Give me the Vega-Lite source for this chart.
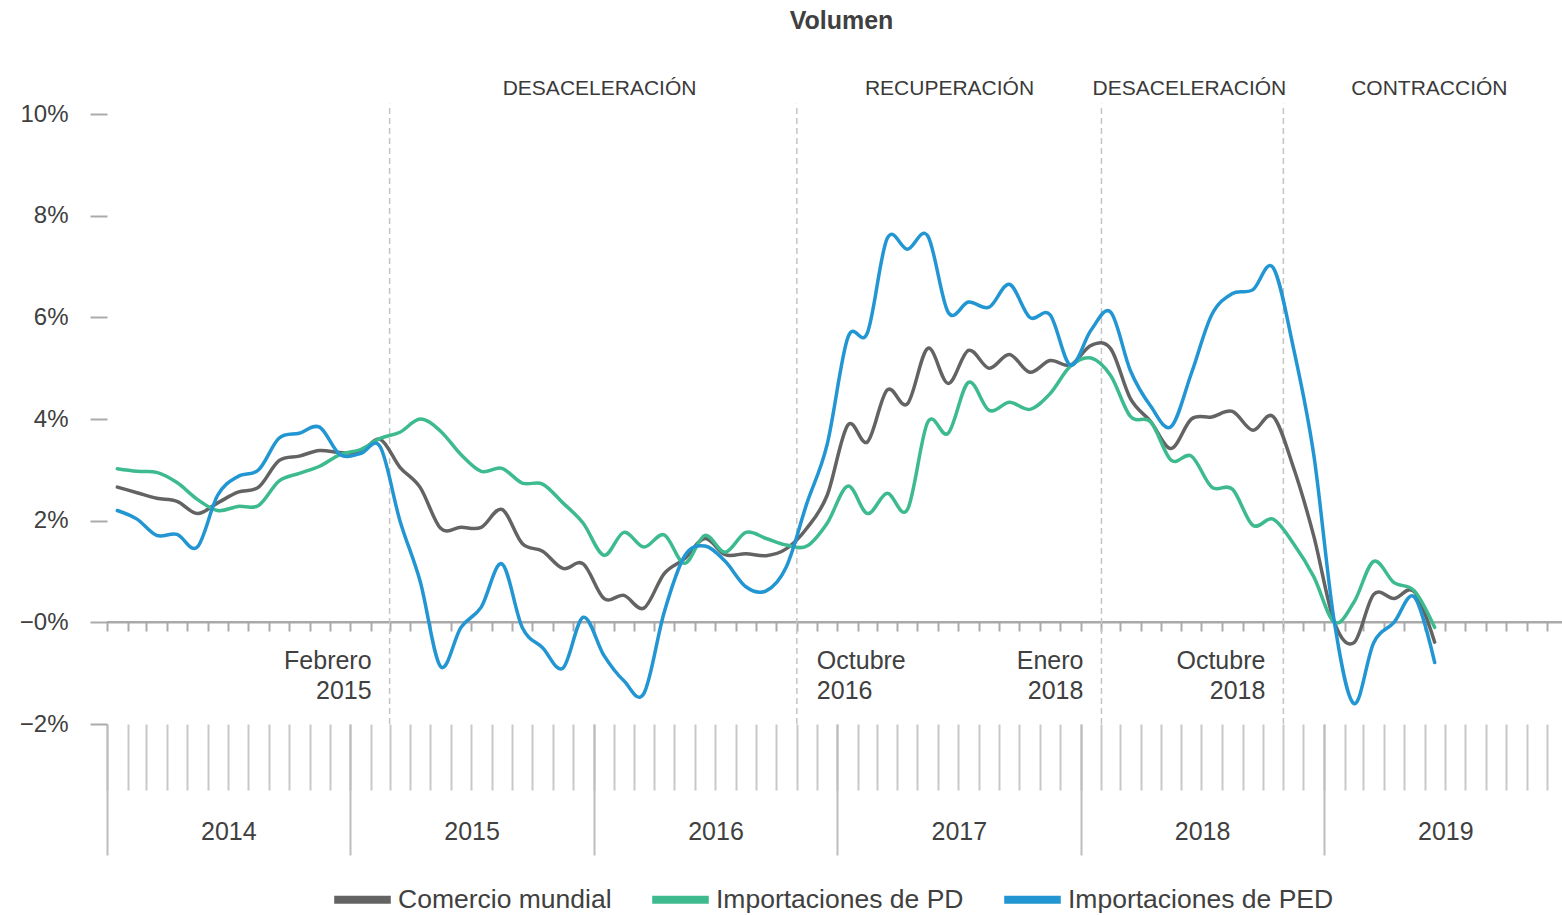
{
"$schema": "https://vega.github.io/schema/vega-lite/v6.json",
"width": 1455, "height": 610,
"autosize": {"type": "none"},
"padding": {"left": 107, "top": 114, "right": 0, "bottom": 191},
"background": "white",
"config": {"font": "Liberation Sans", "view": {"stroke": null}},
"title": {"text": "Volumen", "fontSize": 25, "fontWeight": "bold", "color": "#404040", "anchor": "middle", "frame": "group", "offset": 44, "dx": 7},
"datasets": {
"cortes": [
{"fecha": "2015-03-01", "etiqueta": "Febrero\n2015"},
{"fecha": "2016-11-01", "etiqueta": "Octubre\n2016"},
{"fecha": "2018-02-01", "etiqueta": "Enero\n2018"},
{"fecha": "2018-11-01", "etiqueta": "Octubre\n2018"}
],
"fases": [
{"fase": "DESACELERACIÓN", "fecha": "2016-01-10"},
{"fase": "RECUPERACIÓN", "fecha": "2017-06-18"},
{"fase": "DESACELERACIÓN", "fecha": "2018-06-13"},
{"fase": "CONTRACCIÓN", "fecha": "2019-06-08"}
],
"volumen": [
{"mes":"2014-01","serie":"Comercio mundial","valor":2.66},{"mes":"2014-02","serie":"Comercio mundial","valor":2.55},{"mes":"2014-03","serie":"Comercio mundial","valor":2.44},{"mes":"2014-04","serie":"Comercio mundial","valor":2.38},{"mes":"2014-05","serie":"Comercio mundial","valor":2.14},{"mes":"2014-06","serie":"Comercio mundial","valor":2.35},{"mes":"2014-07","serie":"Comercio mundial","valor":2.56},{"mes":"2014-08","serie":"Comercio mundial","valor":2.66},{"mes":"2014-09","serie":"Comercio mundial","valor":3.18},{"mes":"2014-10","serie":"Comercio mundial","valor":3.27},{"mes":"2014-11","serie":"Comercio mundial","valor":3.38},{"mes":"2014-12","serie":"Comercio mundial","valor":3.34},
{"mes":"2015-01","serie":"Comercio mundial","valor":3.35},{"mes":"2015-02","serie":"Comercio mundial","valor":3.6},{"mes":"2015-03","serie":"Comercio mundial","valor":3.05},{"mes":"2015-04","serie":"Comercio mundial","valor":2.65},{"mes":"2015-05","serie":"Comercio mundial","valor":1.85},{"mes":"2015-06","serie":"Comercio mundial","valor":1.87},{"mes":"2015-07","serie":"Comercio mundial","valor":1.87},{"mes":"2015-08","serie":"Comercio mundial","valor":2.22},{"mes":"2015-09","serie":"Comercio mundial","valor":1.55},{"mes":"2015-10","serie":"Comercio mundial","valor":1.4},{"mes":"2015-11","serie":"Comercio mundial","valor":1.06},{"mes":"2015-12","serie":"Comercio mundial","valor":1.15},
{"mes":"2016-01","serie":"Comercio mundial","valor":0.47},{"mes":"2016-02","serie":"Comercio mundial","valor":0.53},{"mes":"2016-03","serie":"Comercio mundial","valor":0.28},{"mes":"2016-04","serie":"Comercio mundial","valor":0.96},{"mes":"2016-05","serie":"Comercio mundial","valor":1.25},{"mes":"2016-06","serie":"Comercio mundial","valor":1.65},{"mes":"2016-07","serie":"Comercio mundial","valor":1.33},{"mes":"2016-08","serie":"Comercio mundial","valor":1.35},{"mes":"2016-09","serie":"Comercio mundial","valor":1.31},{"mes":"2016-10","serie":"Comercio mundial","valor":1.45},{"mes":"2016-11","serie":"Comercio mundial","valor":1.85},{"mes":"2016-12","serie":"Comercio mundial","valor":2.5},
{"mes":"2017-01","serie":"Comercio mundial","valor":3.88},{"mes":"2017-02","serie":"Comercio mundial","valor":3.55},{"mes":"2017-03","serie":"Comercio mundial","valor":4.57},{"mes":"2017-04","serie":"Comercio mundial","valor":4.3},{"mes":"2017-05","serie":"Comercio mundial","valor":5.39},{"mes":"2017-06","serie":"Comercio mundial","valor":4.7},{"mes":"2017-07","serie":"Comercio mundial","valor":5.35},{"mes":"2017-08","serie":"Comercio mundial","valor":5.0},{"mes":"2017-09","serie":"Comercio mundial","valor":5.27},{"mes":"2017-10","serie":"Comercio mundial","valor":4.92},{"mes":"2017-11","serie":"Comercio mundial","valor":5.15},{"mes":"2017-12","serie":"Comercio mundial","valor":5.06},
{"mes":"2018-01","serie":"Comercio mundial","valor":5.45},{"mes":"2018-02","serie":"Comercio mundial","valor":5.38},{"mes":"2018-03","serie":"Comercio mundial","valor":4.4},{"mes":"2018-04","serie":"Comercio mundial","valor":3.95},{"mes":"2018-05","serie":"Comercio mundial","valor":3.42},{"mes":"2018-06","serie":"Comercio mundial","valor":4.0},{"mes":"2018-07","serie":"Comercio mundial","valor":4.04},{"mes":"2018-08","serie":"Comercio mundial","valor":4.15},{"mes":"2018-09","serie":"Comercio mundial","valor":3.78},{"mes":"2018-10","serie":"Comercio mundial","valor":4.05},{"mes":"2018-11","serie":"Comercio mundial","valor":3.05},{"mes":"2018-12","serie":"Comercio mundial","valor":1.7},
{"mes":"2019-01","serie":"Comercio mundial","valor":0.0},{"mes":"2019-02","serie":"Comercio mundial","valor":-0.4},{"mes":"2019-03","serie":"Comercio mundial","valor":0.55},{"mes":"2019-04","serie":"Comercio mundial","valor":0.47},{"mes":"2019-05","serie":"Comercio mundial","valor":0.6},{"mes":"2019-06","serie":"Comercio mundial","valor":-0.39},
{"mes":"2014-01","serie":"Importaciones de PD","valor":3.02},{"mes":"2014-02","serie":"Importaciones de PD","valor":2.97},{"mes":"2014-03","serie":"Importaciones de PD","valor":2.95},{"mes":"2014-04","serie":"Importaciones de PD","valor":2.75},{"mes":"2014-05","serie":"Importaciones de PD","valor":2.42},{"mes":"2014-06","serie":"Importaciones de PD","valor":2.2},{"mes":"2014-07","serie":"Importaciones de PD","valor":2.28},{"mes":"2014-08","serie":"Importaciones de PD","valor":2.3},{"mes":"2014-09","serie":"Importaciones de PD","valor":2.78},{"mes":"2014-10","serie":"Importaciones de PD","valor":2.93},{"mes":"2014-11","serie":"Importaciones de PD","valor":3.07},{"mes":"2014-12","serie":"Importaciones de PD","valor":3.3},
{"mes":"2015-01","serie":"Importaciones de PD","valor":3.4},{"mes":"2015-02","serie":"Importaciones de PD","valor":3.62},{"mes":"2015-03","serie":"Importaciones de PD","valor":3.74},{"mes":"2015-04","serie":"Importaciones de PD","valor":4.0},{"mes":"2015-05","serie":"Importaciones de PD","valor":3.76},{"mes":"2015-06","serie":"Importaciones de PD","valor":3.3},{"mes":"2015-07","serie":"Importaciones de PD","valor":2.97},{"mes":"2015-08","serie":"Importaciones de PD","valor":3.03},{"mes":"2015-09","serie":"Importaciones de PD","valor":2.74},{"mes":"2015-10","serie":"Importaciones de PD","valor":2.72},{"mes":"2015-11","serie":"Importaciones de PD","valor":2.35},{"mes":"2015-12","serie":"Importaciones de PD","valor":1.95},
{"mes":"2016-01","serie":"Importaciones de PD","valor":1.32},{"mes":"2016-02","serie":"Importaciones de PD","valor":1.77},{"mes":"2016-03","serie":"Importaciones de PD","valor":1.48},{"mes":"2016-04","serie":"Importaciones de PD","valor":1.72},{"mes":"2016-05","serie":"Importaciones de PD","valor":1.16},{"mes":"2016-06","serie":"Importaciones de PD","valor":1.71},{"mes":"2016-07","serie":"Importaciones de PD","valor":1.38},{"mes":"2016-08","serie":"Importaciones de PD","valor":1.77},{"mes":"2016-09","serie":"Importaciones de PD","valor":1.65},{"mes":"2016-10","serie":"Importaciones de PD","valor":1.52},{"mes":"2016-11","serie":"Importaciones de PD","valor":1.5},{"mes":"2016-12","serie":"Importaciones de PD","valor":1.95},
{"mes":"2017-01","serie":"Importaciones de PD","valor":2.68},{"mes":"2017-02","serie":"Importaciones de PD","valor":2.14},{"mes":"2017-03","serie":"Importaciones de PD","valor":2.54},{"mes":"2017-04","serie":"Importaciones de PD","valor":2.22},{"mes":"2017-05","serie":"Importaciones de PD","valor":3.94},{"mes":"2017-06","serie":"Importaciones de PD","valor":3.72},{"mes":"2017-07","serie":"Importaciones de PD","valor":4.72},{"mes":"2017-08","serie":"Importaciones de PD","valor":4.17},{"mes":"2017-09","serie":"Importaciones de PD","valor":4.33},{"mes":"2017-10","serie":"Importaciones de PD","valor":4.19},{"mes":"2017-11","serie":"Importaciones de PD","valor":4.5},{"mes":"2017-12","serie":"Importaciones de PD","valor":5.04},
{"mes":"2018-01","serie":"Importaciones de PD","valor":5.2},{"mes":"2018-02","serie":"Importaciones de PD","valor":4.85},{"mes":"2018-03","serie":"Importaciones de PD","valor":4.05},{"mes":"2018-04","serie":"Importaciones de PD","valor":3.94},{"mes":"2018-05","serie":"Importaciones de PD","valor":3.19},{"mes":"2018-06","serie":"Importaciones de PD","valor":3.27},{"mes":"2018-07","serie":"Importaciones de PD","valor":2.66},{"mes":"2018-08","serie":"Importaciones de PD","valor":2.62},{"mes":"2018-09","serie":"Importaciones de PD","valor":1.91},{"mes":"2018-10","serie":"Importaciones de PD","valor":2.03},{"mes":"2018-11","serie":"Importaciones de PD","valor":1.55},{"mes":"2018-12","serie":"Importaciones de PD","valor":0.9},
{"mes":"2019-01","serie":"Importaciones de PD","valor":0.0},{"mes":"2019-02","serie":"Importaciones de PD","valor":0.4},{"mes":"2019-03","serie":"Importaciones de PD","valor":1.2},{"mes":"2019-04","serie":"Importaciones de PD","valor":0.78},{"mes":"2019-05","serie":"Importaciones de PD","valor":0.62},{"mes":"2019-06","serie":"Importaciones de PD","valor":-0.1},
{"mes":"2014-01","serie":"Importaciones de PED","valor":2.2},{"mes":"2014-02","serie":"Importaciones de PED","valor":2.03},{"mes":"2014-03","serie":"Importaciones de PED","valor":1.71},{"mes":"2014-04","serie":"Importaciones de PED","valor":1.73},{"mes":"2014-05","serie":"Importaciones de PED","valor":1.48},{"mes":"2014-06","serie":"Importaciones de PED","valor":2.5},{"mes":"2014-07","serie":"Importaciones de PED","valor":2.87},{"mes":"2014-08","serie":"Importaciones de PED","valor":3.0},{"mes":"2014-09","serie":"Importaciones de PED","valor":3.62},{"mes":"2014-10","serie":"Importaciones de PED","valor":3.72},{"mes":"2014-11","serie":"Importaciones de PED","valor":3.84},{"mes":"2014-12","serie":"Importaciones de PED","valor":3.3},
{"mes":"2015-01","serie":"Importaciones de PED","valor":3.32},{"mes":"2015-02","serie":"Importaciones de PED","valor":3.45},{"mes":"2015-03","serie":"Importaciones de PED","valor":2.0},{"mes":"2015-04","serie":"Importaciones de PED","valor":0.8},{"mes":"2015-05","serie":"Importaciones de PED","valor":-0.87},{"mes":"2015-06","serie":"Importaciones de PED","valor":-0.1},{"mes":"2015-07","serie":"Importaciones de PED","valor":0.3},{"mes":"2015-08","serie":"Importaciones de PED","valor":1.15},{"mes":"2015-09","serie":"Importaciones de PED","valor":-0.1},{"mes":"2015-10","serie":"Importaciones de PED","valor":-0.5},{"mes":"2015-11","serie":"Importaciones de PED","valor":-0.9},{"mes":"2015-12","serie":"Importaciones de PED","valor":0.1},
{"mes":"2016-01","serie":"Importaciones de PED","valor":-0.65},{"mes":"2016-02","serie":"Importaciones de PED","valor":-1.15},{"mes":"2016-03","serie":"Importaciones de PED","valor":-1.4},{"mes":"2016-04","serie":"Importaciones de PED","valor":0.2},{"mes":"2016-05","serie":"Importaciones de PED","valor":1.3},{"mes":"2016-06","serie":"Importaciones de PED","valor":1.5},{"mes":"2016-07","serie":"Importaciones de PED","valor":1.2},{"mes":"2016-08","serie":"Importaciones de PED","valor":0.7},{"mes":"2016-09","serie":"Importaciones de PED","valor":0.62},{"mes":"2016-10","serie":"Importaciones de PED","valor":1.1},{"mes":"2016-11","serie":"Importaciones de PED","valor":2.34},{"mes":"2016-12","serie":"Importaciones de PED","valor":3.5},
{"mes":"2017-01","serie":"Importaciones de PED","valor":5.6},{"mes":"2017-02","serie":"Importaciones de PED","valor":5.7},{"mes":"2017-03","serie":"Importaciones de PED","valor":7.55},{"mes":"2017-04","serie":"Importaciones de PED","valor":7.34},{"mes":"2017-05","serie":"Importaciones de PED","valor":7.6},{"mes":"2017-06","serie":"Importaciones de PED","valor":6.1},{"mes":"2017-07","serie":"Importaciones de PED","valor":6.3},{"mes":"2017-08","serie":"Importaciones de PED","valor":6.2},{"mes":"2017-09","serie":"Importaciones de PED","valor":6.65},{"mes":"2017-10","serie":"Importaciones de PED","valor":6.0},{"mes":"2017-11","serie":"Importaciones de PED","valor":6.05},{"mes":"2017-12","serie":"Importaciones de PED","valor":5.06},
{"mes":"2018-01","serie":"Importaciones de PED","valor":5.75},{"mes":"2018-02","serie":"Importaciones de PED","valor":6.1},{"mes":"2018-03","serie":"Importaciones de PED","valor":4.95},{"mes":"2018-04","serie":"Importaciones de PED","valor":4.25},{"mes":"2018-05","serie":"Importaciones de PED","valor":3.85},{"mes":"2018-06","serie":"Importaciones de PED","valor":4.9},{"mes":"2018-07","serie":"Importaciones de PED","valor":6.05},{"mes":"2018-08","serie":"Importaciones de PED","valor":6.47},{"mes":"2018-09","serie":"Importaciones de PED","valor":6.54},{"mes":"2018-10","serie":"Importaciones de PED","valor":6.98},{"mes":"2018-11","serie":"Importaciones de PED","valor":5.4},{"mes":"2018-12","serie":"Importaciones de PED","valor":3.3},
{"mes":"2019-01","serie":"Importaciones de PED","valor":0.0},{"mes":"2019-02","serie":"Importaciones de PED","valor":-1.6},{"mes":"2019-03","serie":"Importaciones de PED","valor":-0.4},{"mes":"2019-04","serie":"Importaciones de PED","valor":0.0},{"mes":"2019-05","serie":"Importaciones de PED","valor":0.5},{"mes":"2019-06","serie":"Importaciones de PED","valor":-0.79}
]
},
"layer": [
{
"data": {"values": [{}]},
"mark": {"type": "rule", "color": "#a9a9a9", "strokeWidth": 2.5},
"encoding": {"y": {"datum": 0, "type": "quantitative", "axis": null}}
},
{
"data": {"name": "cortes"},
"mark": {"type": "rule", "color": "#c4c4c4", "strokeWidth": 1.5, "strokeDash": [6, 4]},
"encoding": {
"x": {"field": "fecha", "type": "temporal", "scale": {"type": "utc"},
"axis": {"orient": "bottom", "offset": -102, "title": null, "labels": false, "domain": false, "grid": false, "ticks": true, "tickSize": 9, "tickWidth": 2, "tickColor": "#ababab", "tickCount": {"interval": "month", "step": 1}}},
"y": {"datum": -2, "type": "quantitative", "axis": null},
"y2": {"datum": 10.2}
}
},
{
"data": {"name": "volumen"},
"mark": {"type": "line", "interpolate": "cardinal", "strokeWidth": 3.5, "strokeCap": "round", "strokeJoin": "round"},
"encoding": {
"x": {"field": "mes", "type": "temporal", "timeUnit": "utcyearmonth", "bandPosition": 0.5,
"scale": {"type": "utc", "nice": false, "domain": [{"year": 2014, "month": 1, "date": 1, "utc": true}, {"year": 2019, "month": 12, "date": 24, "utc": true}]},
"axis": {"orient": "bottom", "title": null, "labels": false, "domain": false, "grid": false, "ticks": true, "tickSize": 66, "tickWidth": 2, "tickColor": "#c8c8c8", "tickCount": {"interval": "month", "step": 1}}},
"y": {"field": "valor", "type": "quantitative",
"scale": {"domain": [-2, 10], "nice": false, "zero": false},
"axis": {"orient": "left", "title": null, "values": [-2, 0, 2, 4, 6, 8, 10], "domain": false, "grid": false, "ticks": true, "tickSize": 17, "tickWidth": 2, "tickColor": "#ababab", "labelFontSize": 24, "labelColor": "#404040", "labelPadding": 22,
"labelExpr": "datum.value == 0 ? '−0%' : (datum.value < 0 ? '−' + abs(datum.value) : datum.value) + '%'"}},
"color": {"field": "serie", "type": "nominal",
"scale": {"domain": ["Comercio mundial", "Importaciones de PD", "Importaciones de PED"], "range": ["#636363", "#3dbb8e", "#2296d2"]},
"legend": {"title": null, "orient": "none", "legendX": 223, "legendY": 753, "direction": "horizontal", "symbolType": "stroke", "symbolStrokeWidth": 8, "symbolSize": 3200, "labelFontSize": 26.5, "labelColor": "#404040", "labelOffset": 3, "columnPadding": 24, "padding": 0, "labelLimit": 400}}
}
},
{
"data": {"name": "fases"},
"mark": {"type": "text", "fontSize": 21, "color": "#3a3a3a", "baseline": "middle", "align": "center"},
"encoding": {
"x": {"field": "fecha", "type": "temporal", "scale": {"type": "utc"},
"axis": {"orient": "bottom", "title": null, "labels": false, "domain": false, "grid": false, "ticks": true, "tickSize": 131, "tickWidth": 2, "tickColor": "#bdbdbd",
"values": [{"year": 2014, "month": 1, "date": 1, "utc": true}, {"year": 2015, "month": 1, "date": 1, "utc": true}, {"year": 2016, "month": 1, "date": 1, "utc": true}, {"year": 2017, "month": 1, "date": 1, "utc": true}, {"year": 2018, "month": 1, "date": 1, "utc": true}, {"year": 2019, "month": 1, "date": 1, "utc": true}]}},
"y": {"datum": 10.5, "type": "quantitative", "axis": null},
"text": {"field": "fase", "type": "nominal"}
}
},
{
"data": {"name": "cortes"},
"transform": [{"filter": "indexof(datum.etiqueta, '2016') < 0"}],
"mark": {"type": "text", "fontSize": 25, "color": "#404040", "baseline": "middle", "align": "right", "dx": -18, "lineBreak": "\n", "lineHeight": 30},
"encoding": {
"x": {"field": "fecha", "type": "temporal", "scale": {"type": "utc"},
"axis": {"orient": "bottom", "title": null, "domain": false, "grid": false, "ticks": false, "tickSize": 0, "labelPadding": 107, "labelBaseline": "middle", "labelFontSize": 25, "labelColor": "#404040", "labelOverlap": false, "labelFlush": false,
"labelExpr": "utcFormat(datum.value, '%Y')",
"values": [{"year": 2014, "month": 7, "date": 2, "utc": true}, {"year": 2015, "month": 7, "date": 2, "utc": true}, {"year": 2016, "month": 7, "date": 2, "utc": true}, {"year": 2017, "month": 7, "date": 2, "utc": true}, {"year": 2018, "month": 7, "date": 2, "utc": true}, {"year": 2019, "month": 7, "date": 2, "utc": true}]}},
"y": {"datum": -0.77, "type": "quantitative", "axis": null},
"text": {"field": "etiqueta", "type": "nominal"}
}
},
{
"data": {"name": "cortes"},
"transform": [{"filter": "indexof(datum.etiqueta, '2016') >= 0"}],
"mark": {"type": "text", "fontSize": 25, "color": "#404040", "baseline": "middle", "align": "left", "dx": 20, "lineBreak": "\n", "lineHeight": 30},
"encoding": {
"x": {"field": "fecha", "type": "temporal", "scale": {"type": "utc"}, "axis": null},
"y": {"datum": -0.77, "type": "quantitative", "axis": null},
"text": {"field": "etiqueta", "type": "nominal"}
}
}
],
"resolve": {"axis": {"x": "independent", "y": "independent"}}
}
